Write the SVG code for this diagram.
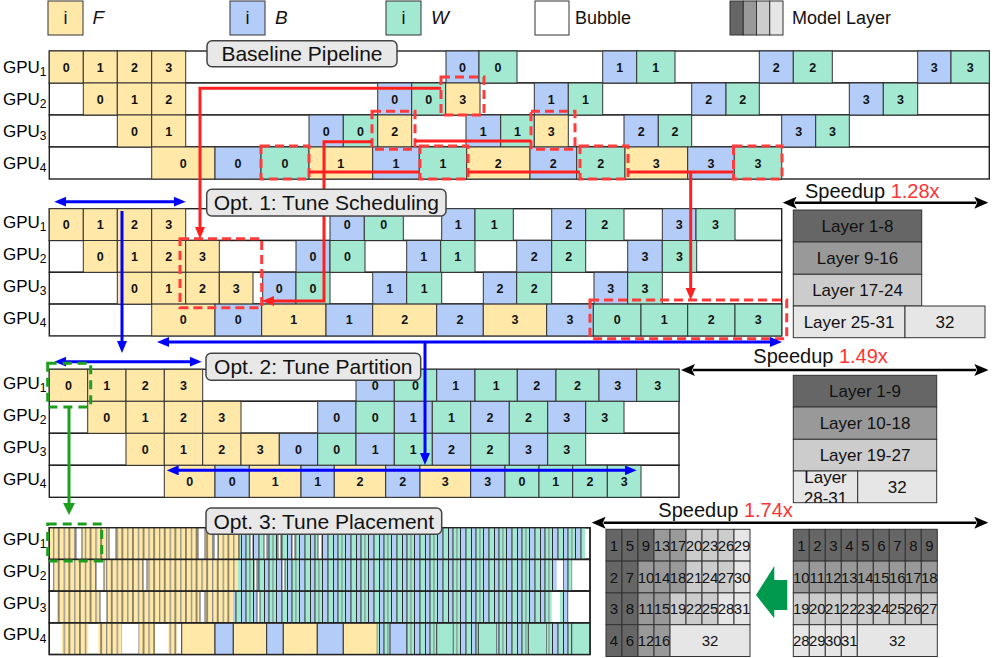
<svg xmlns="http://www.w3.org/2000/svg" width="997" height="658" viewBox="0 0 997 658">
<style>
.f{fill:#ffe8a8;stroke:#333;stroke-width:1}
.b{fill:#b3cdf8;stroke:#333;stroke-width:1}
.w{fill:#a3e9d2;stroke:#333;stroke-width:1}
.e{fill:#fff;stroke:#333;stroke-width:0.8}
.row{fill:#fff;stroke:#222;stroke-width:1.4}
.c{font:bold 12.5px "Liberation Sans",Arial,sans-serif;text-anchor:middle;fill:#111}
.g{font:17px "Liberation Sans",Arial,sans-serif;fill:#000}
.sub{font-size:12px}
.lb{fill:#e8e8e8;stroke:#444;stroke-width:1.5}
.lt{font:21px "Liberation Sans",Arial,sans-serif;text-anchor:middle;fill:#111}
.lay{font:17px "Liberation Sans",Arial,sans-serif;text-anchor:middle;fill:#111}
.num{font:15px "Liberation Sans",Arial,sans-serif;text-anchor:middle;fill:#111}
.leg{font:18px "Liberation Sans",Arial,sans-serif;fill:#111}
.legi{font:italic 19px "Liberation Sans",Arial,sans-serif;fill:#111}
.sp{font:20px "Liberation Sans",Arial,sans-serif;fill:#111}
.red{fill:#ff3333}
.l1{fill:#666;stroke:#333;stroke-width:1}
.l2{fill:#999;stroke:#333;stroke-width:1}
.l3{fill:#ccc;stroke:#333;stroke-width:1}
.l4{fill:#e6e6e6;stroke:#333;stroke-width:1}
.rd{fill:none;stroke:#ff3b3b;stroke-width:3;stroke-dasharray:9 5}
.rl{fill:none;stroke:#ff2020;stroke-width:3}
.bl{fill:none;stroke:#0000ff;stroke-width:3}
.gd{fill:none;stroke:#1e9e1e;stroke-width:3;stroke-dasharray:9 6}
.gl{fill:none;stroke:#1e9e1e;stroke-width:3}
.kl{fill:none;stroke:#000;stroke-width:2.5}
</style>
<defs>
<pattern id="pf" patternUnits="userSpaceOnUse" width="10.6" height="20">
<rect width="10.6" height="20" fill="#ffe8a8"/>
<rect x="0" width="1.3" height="20" fill="#8c8c8c"/>
<rect x="5.3" width="0.9" height="20" fill="#1a1a1a"/>
</pattern>
<pattern id="pbw" patternUnits="userSpaceOnUse" width="23" height="20">
<rect width="23" height="20" fill="#a3e9d2"/>
<rect x="0" width="5.5" height="20" fill="#b3cdf8"/>
<rect x="11" width="4.5" height="20" fill="#b3cdf8"/>
<rect x="0" width="0.9" height="20" fill="#1a1a1a"/>
<rect x="5.5" width="0.9" height="20" fill="#1a1a1a"/>
<rect x="11" width="0.9" height="20" fill="#1a1a1a"/>
<rect x="15.5" width="0.9" height="20" fill="#1a1a1a"/>
<rect x="19.5" width="0.9" height="20" fill="#777"/>
</pattern>
<marker id="mb" viewBox="0 0 12 10" refX="2" refY="5" markerWidth="12" markerHeight="10" markerUnits="userSpaceOnUse" orient="auto-start-reverse"><path d="M0,0 L12,5 L0,10 z" fill="#0000ff"/></marker>
<marker id="mr" viewBox="0 0 12 10" refX="2" refY="5" markerWidth="12" markerHeight="10" markerUnits="userSpaceOnUse" orient="auto-start-reverse"><path d="M0,0 L12,5 L0,10 z" fill="#ff2020"/></marker>
<marker id="mg" viewBox="0 0 12 12" refX="2" refY="6" markerWidth="12" markerHeight="12" markerUnits="userSpaceOnUse" orient="auto-start-reverse"><path d="M0,0 L12,6 L0,12 z" fill="#1e9e1e"/></marker>
<marker id="mk" viewBox="0 0 14 12" refX="2" refY="6" markerWidth="14" markerHeight="12" markerUnits="userSpaceOnUse" orient="auto-start-reverse"><path d="M0,0 L14,6 L0,12 L3,6 z" fill="#000"/></marker>
<clipPath id="cp1"><rect x="793.3" y="471" width="64.4" height="31.7"/></clipPath>
</defs>

<g id="legend">
<rect class="f" x="48" y="1" width="35" height="34"/><text class="leg" x="65.5" y="24" text-anchor="middle">i</text><text class="legi" x="92.5" y="24">F</text>
<rect class="b" x="230" y="1" width="35" height="34"/><text class="leg" x="247.5" y="24" text-anchor="middle">i</text><text class="legi" x="275" y="24">B</text>
<rect class="w" x="386" y="1" width="35" height="34"/><text class="leg" x="403.5" y="24" text-anchor="middle">i</text><text class="legi" x="431" y="24">W</text>
<rect class="e" x="535" y="1" width="34" height="34" style="stroke-width:1"/><text class="leg" x="575" y="24">Bubble</text>
<rect class="l1" x="730" y="1" width="13.25" height="34"/><rect class="l2" x="743.25" y="1" width="13.25" height="34"/><rect class="l3" x="756.5" y="1" width="13.25" height="34"/><rect class="l4" x="769.75" y="1" width="13.25" height="34"/>
<text class="leg" x="792" y="24">Model Layer</text>
</g>

<g id="gpu-labels">
<text class="g" x="3" y="73">GPU<tspan class="sub" dy="3">1</tspan></text>
<text class="g" x="3" y="105">GPU<tspan class="sub" dy="3">2</tspan></text>
<text class="g" x="3" y="137">GPU<tspan class="sub" dy="3">3</tspan></text>
<text class="g" x="3" y="169">GPU<tspan class="sub" dy="3">4</tspan></text>
<text class="g" x="3" y="228">GPU<tspan class="sub" dy="3">1</tspan></text>
<text class="g" x="3" y="260">GPU<tspan class="sub" dy="3">2</tspan></text>
<text class="g" x="3" y="292">GPU<tspan class="sub" dy="3">3</tspan></text>
<text class="g" x="3" y="323.5">GPU<tspan class="sub" dy="3">4</tspan></text>
<text class="g" x="3" y="389">GPU<tspan class="sub" dy="3">1</tspan></text>
<text class="g" x="3" y="421">GPU<tspan class="sub" dy="3">2</tspan></text>
<text class="g" x="3" y="453">GPU<tspan class="sub" dy="3">3</tspan></text>
<text class="g" x="3" y="485">GPU<tspan class="sub" dy="3">4</tspan></text>
<text class="g" x="3" y="545">GPU<tspan class="sub" dy="3">1</tspan></text>
<text class="g" x="3" y="577">GPU<tspan class="sub" dy="3">2</tspan></text>
<text class="g" x="3" y="608.5">GPU<tspan class="sub" dy="3">3</tspan></text>
<text class="g" x="3" y="640">GPU<tspan class="sub" dy="3">4</tspan></text>
</g>

<g id="baseline">
<rect class="row" x="49.3" y="51" width="940" height="32"/>
<rect class="row" x="49.3" y="83" width="940" height="32"/>
<rect class="row" x="49.3" y="115" width="940" height="32"/>
<rect class="row" x="49.3" y="147" width="940" height="32"/>
<rect class="f" x="49.3" y="51" width="34" height="32"/><text class="c" x="66.3" y="71.5">0</text>
<rect class="f" x="83.3" y="51" width="34" height="32"/><text class="c" x="100.3" y="71.5">1</text>
<rect class="f" x="117.3" y="51" width="34.4" height="32"/><text class="c" x="134.5" y="71.5">2</text>
<rect class="f" x="151.7" y="51" width="34" height="32"/><text class="c" x="168.7" y="71.5">3</text>
<rect class="b" x="446" y="51" width="33" height="32"/><text class="c" x="462.5" y="71.5">0</text>
<rect class="w" x="479" y="51" width="38" height="32"/><text class="c" x="498" y="71.5">0</text>
<rect class="b" x="602.7" y="51" width="34" height="32"/><text class="c" x="619.7" y="71.5">1</text>
<rect class="w" x="636.7" y="51" width="38.3" height="32"/><text class="c" x="655.8" y="71.5">1</text>
<rect class="b" x="759.3" y="51" width="34" height="32"/><text class="c" x="776.3" y="71.5">2</text>
<rect class="w" x="793.3" y="51" width="39" height="32"/><text class="c" x="812.8" y="71.5">2</text>
<rect class="b" x="917.7" y="51" width="33.3" height="32"/><text class="c" x="934.3" y="71.5">3</text>
<rect class="w" x="951" y="51" width="38.3" height="32"/><text class="c" x="970.2" y="71.5">3</text>

<rect class="f" x="83.3" y="83" width="34" height="32"/><text class="c" x="100.3" y="103.5">0</text>
<rect class="f" x="117.3" y="83" width="34.4" height="32"/><text class="c" x="134.5" y="103.5">1</text>
<rect class="f" x="151.7" y="83" width="34" height="32"/><text class="c" x="168.7" y="103.5">2</text>
<rect class="b" x="377.7" y="83" width="34" height="32"/><text class="c" x="394.7" y="103.5">0</text>
<rect class="w" x="411.7" y="83" width="34" height="32"/><text class="c" x="428.7" y="103.5">0</text>
<rect class="f" x="445.7" y="83" width="34.3" height="32"/><text class="c" x="462.8" y="103.5">3</text>
<rect class="b" x="534.3" y="83" width="34" height="32"/><text class="c" x="551.3" y="103.5">1</text>
<rect class="w" x="568.3" y="83" width="34.4" height="32"/><text class="c" x="585.5" y="103.5">1</text>
<rect class="b" x="691.7" y="83" width="34.3" height="32"/><text class="c" x="708.8" y="103.5">2</text>
<rect class="w" x="726" y="83" width="33.3" height="32"/><text class="c" x="742.7" y="103.5">2</text>
<rect class="b" x="849.3" y="83" width="34" height="32"/><text class="c" x="866.3" y="103.5">3</text>
<rect class="w" x="883.3" y="83" width="34.4" height="32"/><text class="c" x="900.5" y="103.5">3</text>

<rect class="f" x="117.3" y="115" width="34.4" height="32"/><text class="c" x="134.5" y="135.5">0</text>
<rect class="f" x="151.7" y="115" width="34" height="32"/><text class="c" x="168.7" y="135.5">1</text>
<rect class="b" x="309" y="115" width="34.3" height="32"/><text class="c" x="326.2" y="135.5">0</text>
<rect class="w" x="343.3" y="115" width="34.4" height="32"/><text class="c" x="360.5" y="135.5">0</text>
<rect class="f" x="377.7" y="115" width="34" height="32"/><text class="c" x="394.7" y="135.5">2</text>
<rect class="b" x="466" y="115" width="34.7" height="32"/><text class="c" x="483.3" y="135.5">1</text>
<rect class="w" x="500.7" y="115" width="33.6" height="32"/><text class="c" x="517.5" y="135.5">1</text>
<rect class="f" x="534.3" y="115" width="34" height="32"/><text class="c" x="551.3" y="135.5">3</text>
<rect class="b" x="624" y="115" width="34.3" height="32"/><text class="c" x="641.2" y="135.5">2</text>
<rect class="w" x="658.3" y="115" width="33.4" height="32"/><text class="c" x="675" y="135.5">2</text>
<rect class="b" x="781.7" y="115" width="34" height="32"/><text class="c" x="798.7" y="135.5">3</text>
<rect class="w" x="815.7" y="115" width="33.6" height="32"/><text class="c" x="832.5" y="135.5">3</text>

<rect class="f" x="151.7" y="147" width="63.3" height="32"/><text class="c" x="183.3" y="167.5">0</text>
<rect class="b" x="215" y="147" width="46" height="32"/><text class="c" x="238" y="167.5">0</text>
<rect class="w" x="261" y="147" width="48" height="32"/><text class="c" x="285" y="167.5">0</text>
<rect class="f" x="309" y="147" width="63.7" height="32"/><text class="c" x="340.8" y="167.5">1</text>
<rect class="b" x="372.7" y="147" width="46.6" height="32"/><text class="c" x="396" y="167.5">1</text>
<rect class="w" x="419.3" y="147" width="47.4" height="32"/><text class="c" x="443" y="167.5">1</text>
<rect class="f" x="466.7" y="147" width="63.3" height="32"/><text class="c" x="498.3" y="167.5">2</text>
<rect class="b" x="530" y="147" width="46.7" height="32"/><text class="c" x="553.3" y="167.5">2</text>
<rect class="w" x="576.7" y="147" width="48.3" height="32"/><text class="c" x="600.8" y="167.5">2</text>
<rect class="f" x="625" y="147" width="62.7" height="32"/><text class="c" x="656.3" y="167.5">3</text>
<rect class="b" x="687.7" y="147" width="46.6" height="32"/><text class="c" x="711" y="167.5">3</text>
<rect class="w" x="734.3" y="147" width="47.4" height="32"/><text class="c" x="758" y="167.5">3</text>
</g>

<g id="opt1">
<rect class="row" x="49.3" y="208.7" width="732.4" height="31.8"/>
<rect class="row" x="49.3" y="240.5" width="732.4" height="31.8"/>
<rect class="row" x="49.3" y="272.3" width="732.4" height="31.8"/>
<rect class="row" x="49.3" y="304.1" width="732.4" height="31.8"/>
<rect class="f" x="49.3" y="208.7" width="34" height="31.8"/><text class="c" x="66.3" y="229">0</text>
<rect class="f" x="83.3" y="208.7" width="34" height="31.8"/><text class="c" x="100.3" y="229">1</text>
<rect class="f" x="117.3" y="208.7" width="34.4" height="31.8"/><text class="c" x="134.5" y="229">2</text>
<rect class="f" x="151.7" y="208.7" width="34" height="31.8"/><text class="c" x="168.7" y="229">3</text>
<rect class="b" x="330" y="208.7" width="34.3" height="31.8"/><text class="c" x="347.2" y="229">0</text>
<rect class="w" x="364.3" y="208.7" width="39" height="31.8"/><text class="c" x="383.8" y="229">0</text>
<rect class="b" x="441.7" y="208.7" width="33.3" height="31.8"/><text class="c" x="458.3" y="229">1</text>
<rect class="w" x="475" y="208.7" width="38.3" height="31.8"/><text class="c" x="494.2" y="229">1</text>
<rect class="b" x="551.7" y="208.7" width="34" height="31.8"/><text class="c" x="568.7" y="229">2</text>
<rect class="w" x="585.7" y="208.7" width="38.3" height="31.8"/><text class="c" x="604.8" y="229">2</text>
<rect class="b" x="662.3" y="208.7" width="33.7" height="31.8"/><text class="c" x="679.2" y="229">3</text>
<rect class="w" x="696" y="208.7" width="39" height="31.8"/><text class="c" x="715.5" y="229">3</text>

<rect class="f" x="83.3" y="240.5" width="34" height="31.8"/><text class="c" x="100.3" y="260.8">0</text>
<rect class="f" x="117.3" y="240.5" width="34.4" height="31.8"/><text class="c" x="134.5" y="260.8">1</text>
<rect class="f" x="151.7" y="240.5" width="34" height="31.8"/><text class="c" x="168.7" y="260.8">2</text>
<rect class="f" x="185.7" y="240.5" width="33.6" height="31.8"/><text class="c" x="202.5" y="260.8">3</text>
<rect class="b" x="296" y="240.5" width="34" height="31.8"/><text class="c" x="313" y="260.8">0</text>
<rect class="w" x="330" y="240.5" width="35" height="31.8"/><text class="c" x="347.5" y="260.8">0</text>
<rect class="b" x="406.7" y="240.5" width="34" height="31.8"/><text class="c" x="423.7" y="260.8">1</text>
<rect class="w" x="440.7" y="240.5" width="34.3" height="31.8"/><text class="c" x="457.8" y="260.8">1</text>
<rect class="b" x="516.7" y="240.5" width="35" height="31.8"/><text class="c" x="534.2" y="260.8">2</text>
<rect class="w" x="551.7" y="240.5" width="34" height="31.8"/><text class="c" x="568.7" y="260.8">2</text>
<rect class="b" x="627.7" y="240.5" width="34.6" height="31.8"/><text class="c" x="645" y="260.8">3</text>
<rect class="w" x="662.3" y="240.5" width="34.4" height="31.8"/><text class="c" x="679.5" y="260.8">3</text>

<rect class="f" x="117.3" y="272.3" width="34.4" height="31.8"/><text class="c" x="134.5" y="292.6">0</text>
<rect class="f" x="151.7" y="272.3" width="34" height="31.8"/><text class="c" x="168.7" y="292.6">1</text>
<rect class="f" x="185.7" y="272.3" width="33.6" height="31.8"/><text class="c" x="202.5" y="292.6">2</text>
<rect class="f" x="219.3" y="272.3" width="33.7" height="31.8"/><text class="c" x="236.2" y="292.6">3</text>
<rect class="b" x="262.7" y="272.3" width="33.3" height="31.8"/><text class="c" x="279.3" y="292.6">0</text>
<rect class="w" x="296" y="272.3" width="34" height="31.8"/><text class="c" x="313" y="292.6">0</text>
<rect class="b" x="372.7" y="272.3" width="34" height="31.8"/><text class="c" x="389.7" y="292.6">1</text>
<rect class="w" x="406.7" y="272.3" width="35" height="31.8"/><text class="c" x="424.2" y="292.6">1</text>
<rect class="b" x="483.3" y="272.3" width="33.4" height="31.8"/><text class="c" x="500" y="292.6">2</text>
<rect class="w" x="516.7" y="272.3" width="35" height="31.8"/><text class="c" x="534.2" y="292.6">2</text>
<rect class="b" x="594" y="272.3" width="33.7" height="31.8"/><text class="c" x="610.8" y="292.6">3</text>
<rect class="w" x="627.7" y="272.3" width="34.6" height="31.8"/><text class="c" x="645" y="292.6">3</text>

<rect class="f" x="151.7" y="304.1" width="63.3" height="31.8"/><text class="c" x="183.3" y="324.4">0</text>
<rect class="b" x="215" y="304.1" width="46.7" height="31.8"/><text class="c" x="238.3" y="324.4">0</text>
<rect class="f" x="261.7" y="304.1" width="64.3" height="31.8"/><text class="c" x="293.8" y="324.4">1</text>
<rect class="b" x="326" y="304.1" width="46.7" height="31.8"/><text class="c" x="349.3" y="324.4">1</text>
<rect class="f" x="372.7" y="304.1" width="64" height="31.8"/><text class="c" x="404.7" y="324.4">2</text>
<rect class="b" x="436.7" y="304.1" width="46.6" height="31.8"/><text class="c" x="460" y="324.4">2</text>
<rect class="f" x="483.3" y="304.1" width="63.4" height="31.8"/><text class="c" x="515" y="324.4">3</text>
<rect class="b" x="546.7" y="304.1" width="46.6" height="31.8"/><text class="c" x="570" y="324.4">3</text>
<rect class="w" x="593.3" y="304.1" width="47.7" height="31.8"/><text class="c" x="617.2" y="324.4">0</text>
<rect class="w" x="641" y="304.1" width="46.7" height="31.8"/><text class="c" x="664.3" y="324.4">1</text>
<rect class="w" x="687.7" y="304.1" width="47.3" height="31.8"/><text class="c" x="711.3" y="324.4">2</text>
<rect class="w" x="735" y="304.1" width="46.7" height="31.8"/><text class="c" x="758.3" y="324.4">3</text>
</g>

<g id="opt2">
<rect class="row" x="49.3" y="369.3" width="629.7" height="32"/>
<rect class="row" x="49.3" y="401.3" width="629.7" height="32"/>
<rect class="row" x="49.3" y="433.3" width="629.7" height="32"/>
<rect class="row" x="49.3" y="465.3" width="629.7" height="32"/>
<rect class="f" x="49.3" y="369.3" width="38.4" height="32"/><text class="c" x="68.5" y="389.8">0</text>
<rect class="f" x="87.7" y="369.3" width="38.3" height="32"/><text class="c" x="106.8" y="389.8">1</text>
<rect class="f" x="126" y="369.3" width="38.3" height="32"/><text class="c" x="145.2" y="389.8">2</text>
<rect class="f" x="164.3" y="369.3" width="38.4" height="32"/><text class="c" x="183.5" y="389.8">3</text>
<rect class="b" x="356" y="369.3" width="38.3" height="32"/><text class="c" x="375.2" y="389.8">0</text>
<rect class="w" x="394.3" y="369.3" width="42.4" height="32"/><text class="c" x="415.5" y="389.8">0</text>
<rect class="b" x="436.7" y="369.3" width="38.3" height="32"/><text class="c" x="455.8" y="389.8">1</text>
<rect class="w" x="475" y="369.3" width="42.3" height="32"/><text class="c" x="496.2" y="389.8">1</text>
<rect class="b" x="517.3" y="369.3" width="38.7" height="32"/><text class="c" x="536.7" y="389.8">2</text>
<rect class="w" x="556" y="369.3" width="43" height="32"/><text class="c" x="577.5" y="389.8">2</text>
<rect class="b" x="599" y="369.3" width="37.7" height="32"/><text class="c" x="617.8" y="389.8">3</text>
<rect class="w" x="636.7" y="369.3" width="42.3" height="32"/><text class="c" x="657.8" y="389.8">3</text>

<rect class="f" x="87.7" y="401.3" width="38.3" height="32"/><text class="c" x="106.8" y="421.8">0</text>
<rect class="f" x="126" y="401.3" width="38.3" height="32"/><text class="c" x="145.2" y="421.8">1</text>
<rect class="f" x="164.3" y="401.3" width="38.4" height="32"/><text class="c" x="183.5" y="421.8">2</text>
<rect class="f" x="202.7" y="401.3" width="38.3" height="32"/><text class="c" x="221.8" y="421.8">3</text>
<rect class="b" x="317.7" y="401.3" width="38.3" height="32"/><text class="c" x="336.8" y="421.8">0</text>
<rect class="w" x="356" y="401.3" width="38.3" height="32"/><text class="c" x="375.2" y="421.8">0</text>
<rect class="b" x="394.3" y="401.3" width="38" height="32"/><text class="c" x="413.3" y="421.8">1</text>
<rect class="w" x="432.3" y="401.3" width="38.4" height="32"/><text class="c" x="451.5" y="421.8">1</text>
<rect class="b" x="470.7" y="401.3" width="38.6" height="32"/><text class="c" x="490" y="421.8">2</text>
<rect class="w" x="509.3" y="401.3" width="38.4" height="32"/><text class="c" x="528.5" y="421.8">2</text>
<rect class="b" x="547.7" y="401.3" width="38" height="32"/><text class="c" x="566.7" y="421.8">3</text>
<rect class="w" x="585.7" y="401.3" width="38.3" height="32"/><text class="c" x="604.8" y="421.8">3</text>

<rect class="f" x="126" y="433.3" width="38.3" height="32"/><text class="c" x="145.2" y="453.8">0</text>
<rect class="f" x="164.3" y="433.3" width="38.4" height="32"/><text class="c" x="183.5" y="453.8">1</text>
<rect class="f" x="202.7" y="433.3" width="38.3" height="32"/><text class="c" x="221.8" y="453.8">2</text>
<rect class="f" x="241" y="433.3" width="38.3" height="32"/><text class="c" x="260.2" y="453.8">3</text>
<rect class="b" x="279.3" y="433.3" width="38.4" height="32"/><text class="c" x="298.5" y="453.8">0</text>
<rect class="w" x="317.7" y="433.3" width="38.3" height="32"/><text class="c" x="336.8" y="453.8">0</text>
<rect class="b" x="356" y="433.3" width="38.3" height="32"/><text class="c" x="375.2" y="453.8">1</text>
<rect class="w" x="394.3" y="433.3" width="38" height="32"/><text class="c" x="413.3" y="453.8">1</text>
<rect class="b" x="432.3" y="433.3" width="38.4" height="32"/><text class="c" x="451.5" y="453.8">2</text>
<rect class="w" x="470.7" y="433.3" width="38.6" height="32"/><text class="c" x="490" y="453.8">2</text>
<rect class="b" x="509.3" y="433.3" width="38.4" height="32"/><text class="c" x="528.5" y="453.8">3</text>
<rect class="w" x="547.7" y="433.3" width="38" height="32"/><text class="c" x="566.7" y="453.8">3</text>

<rect class="f" x="164.3" y="465.3" width="50.7" height="32"/><text class="c" x="189.7" y="485.8">0</text>
<rect class="b" x="215" y="465.3" width="34.3" height="32"/><text class="c" x="232.2" y="485.8">0</text>
<rect class="f" x="249.3" y="465.3" width="51.7" height="32"/><text class="c" x="275.2" y="485.8">1</text>
<rect class="b" x="301" y="465.3" width="33.3" height="32"/><text class="c" x="317.7" y="485.8">1</text>
<rect class="f" x="334.3" y="465.3" width="51.4" height="32"/><text class="c" x="360" y="485.8">2</text>
<rect class="b" x="385.7" y="465.3" width="34.3" height="32"/><text class="c" x="402.8" y="485.8">2</text>
<rect class="f" x="420" y="465.3" width="50.7" height="32"/><text class="c" x="445.3" y="485.8">3</text>
<rect class="b" x="470.7" y="465.3" width="34.3" height="32"/><text class="c" x="487.8" y="485.8">3</text>
<rect class="w" x="505" y="465.3" width="34" height="32"/><text class="c" x="522" y="485.8">0</text>
<rect class="w" x="539" y="465.3" width="33.7" height="32"/><text class="c" x="555.8" y="485.8">1</text>
<rect class="w" x="572.7" y="465.3" width="34.6" height="32"/><text class="c" x="590" y="485.8">2</text>
<rect class="w" x="607.3" y="465.3" width="33.7" height="32"/><text class="c" x="624.2" y="485.8">3</text>
</g>

<g id="opt3">
<rect class="row" x="49.3" y="527.7" width="540.7" height="31.7"/>
<rect class="row" x="49.3" y="559.4" width="540.7" height="31.7"/>
<rect class="row" x="49.3" y="591.1" width="540.7" height="31.7"/>
<rect class="row" x="49.3" y="622.8" width="540.7" height="31.7"/>
<rect x="49.3" y="527.7" width="190.7" height="31.7" fill="url(#pf)"/>
<rect x="240" y="527.7" width="345" height="31.7" fill="url(#pbw)"/>
<rect class="e" x="76" y="527.7" width="6" height="31.7"/><rect class="e" x="109" y="527.7" width="7" height="31.7"/><rect class="e" x="198" y="527.7" width="7" height="31.7"/><rect class="e" x="214" y="527.7" width="4" height="31.7"/>
<rect class="e" x="250" y="527.7" width="3" height="31.7"/><rect class="e" x="264" y="527.7" width="3" height="31.7"/><rect class="e" x="278" y="527.7" width="3" height="31.7"/><rect class="e" x="292" y="527.7" width="3" height="31.7"/><rect class="e" x="318" y="527.7" width="4" height="31.7"/>
<rect x="53" y="559.4" width="185" height="31.7" fill="url(#pf)"/>
<rect x="238" y="559.4" width="318.7" height="31.7" fill="url(#pbw)"/>
<rect x="563.3" y="559.4" width="9" height="31.7" fill="url(#pbw)"/>
<rect class="e" x="96" y="559.4" width="8" height="31.7"/><rect class="e" x="143" y="559.4" width="4" height="31.7"/><rect class="e" x="254" y="559.4" width="3" height="31.7"/><rect class="e" x="282" y="559.4" width="3" height="31.7"/>
<rect x="57" y="591.1" width="176" height="31.7" fill="url(#pf)"/>
<rect x="233" y="591.1" width="318.7" height="31.7" fill="url(#pbw)"/>
<rect x="560" y="591.1" width="8.3" height="31.7" fill="url(#pbw)"/>
<rect class="e" x="100" y="591.1" width="7" height="31.7"/><rect class="e" x="200" y="591.1" width="5" height="31.7"/><rect class="e" x="257" y="591.1" width="3" height="31.7"/>
<rect x="61.7" y="622.8" width="26.6" height="31.7" fill="url(#pf)"/>
<rect x="98.3" y="622.8" width="23.4" height="31.7" fill="url(#pf)"/>
<rect x="138.3" y="622.8" width="16.7" height="31.7" fill="url(#pf)"/>
<rect x="168.3" y="622.8" width="8.4" height="31.7" fill="url(#pf)"/>
<rect class="f" x="181.7" y="622.8" width="33.3" height="31.7"/>
<rect class="b" x="215" y="622.8" width="18.3" height="31.7"/>
<rect class="f" x="233.3" y="622.8" width="33.4" height="31.7"/>
<rect class="b" x="266.7" y="622.8" width="16.6" height="31.7"/>
<rect class="f" x="283.3" y="622.8" width="34" height="31.7"/>
<rect class="b" x="317.3" y="622.8" width="26" height="31.7"/>
<rect class="f" x="343.3" y="622.8" width="34" height="31.7"/>
<rect x="377.3" y="622.8" width="12.7" height="31.7" fill="url(#pbw)"/>
<rect class="b" x="390" y="622.8" width="16.7" height="31.7"/>
<rect x="406.7" y="622.8" width="30" height="31.7" fill="url(#pbw)"/>
<rect class="w" x="436.7" y="622.8" width="16.6" height="31.7"/>
<rect x="453.3" y="622.8" width="25" height="31.7" fill="url(#pbw)"/>
<rect class="w" x="478.3" y="622.8" width="18.4" height="31.7"/>
<rect x="496.7" y="622.8" width="31.6" height="31.7" fill="url(#pbw)"/>
<rect class="w" x="528.3" y="622.8" width="18.4" height="31.7"/>
<rect x="546.7" y="622.8" width="25" height="31.7" fill="url(#pbw)"/>
<rect class="w" x="571.7" y="622.8" width="18.3" height="31.7"/>
<rect x="49.3" y="527.7" width="540.7" height="31.7" fill="none" stroke="#222" stroke-width="1.4"/>
<rect x="49.3" y="559.4" width="540.7" height="31.7" fill="none" stroke="#222" stroke-width="1.4"/>
<rect x="49.3" y="591.1" width="540.7" height="31.7" fill="none" stroke="#222" stroke-width="1.4"/>
<rect x="49.3" y="622.8" width="540.7" height="31.7" fill="none" stroke="#222" stroke-width="1.4"/>
</g>

<g id="layers-opt1">
<rect class="l1" x="793.3" y="210" width="128.4" height="32"/><text class="lay" x="857.5" y="232">Layer 1-8</text>
<rect class="l2" x="793.3" y="242" width="128.4" height="32.3"/><text class="lay" x="857.5" y="264">Layer 9-16</text>
<rect class="l3" x="793.3" y="274.3" width="128.4" height="31.7"/><text class="lay" x="857.5" y="296">Layer 17-24</text>
<rect class="l4" x="793.3" y="306" width="111.7" height="31.7"/><text class="lay" x="849" y="328">Layer 25-31</text>
<rect class="l4" x="905" y="306" width="80" height="31.7"/><text class="lay" x="945" y="328">32</text>
</g>

<g id="layers-opt2">
<rect class="l1" x="793.3" y="375.3" width="143.4" height="31.7"/><text class="lay" x="865" y="397">Layer 1-9</text>
<rect class="l2" x="793.3" y="407" width="143.4" height="32.3"/><text class="lay" x="865" y="429">Layer 10-18</text>
<rect class="l3" x="793.3" y="439.3" width="143.4" height="31.7"/><text class="lay" x="865" y="461">Layer 19-27</text>
<rect class="l4" x="793.3" y="471" width="64.4" height="31.7"/>
<g clip-path="url(#cp1)"><text class="lay" x="825.5" y="483">Layer</text><text class="lay" x="825.5" y="504">28-31</text></g>
<rect class="l4" x="857.7" y="471" width="79" height="31.7"/><text class="lay" x="897.2" y="493">32</text>
</g>

<g id="layers-opt3-placed">
<rect class="l1" x="606" y="529.3" width="16" height="31.8"/><text class="num" x="614" y="550.7">1</text>
<rect class="l1" x="622" y="529.3" width="16" height="31.8"/><text class="num" x="630" y="550.7">5</text>
<rect class="l1" x="638" y="529.3" width="16" height="31.8"/><text class="num" x="646" y="550.7">9</text>
<rect class="l2" x="654" y="529.3" width="16" height="31.8"/><text class="num" x="662" y="550.7">13</text>
<rect class="l2" x="670" y="529.3" width="16" height="31.8"/><text class="num" x="678" y="550.7">17</text>
<rect class="l3" x="686" y="529.3" width="16" height="31.8"/><text class="num" x="694" y="550.7">20</text>
<rect class="l3" x="702" y="529.3" width="16" height="31.8"/><text class="num" x="710" y="550.7">23</text>
<rect class="l3" x="718" y="529.3" width="16" height="31.8"/><text class="num" x="726" y="550.7">26</text>
<rect class="l4" x="734" y="529.3" width="16" height="31.8"/><text class="num" x="742" y="550.7">29</text>
<rect class="l1" x="606" y="561.1" width="16" height="31.8"/><text class="num" x="614" y="582.5">2</text>
<rect class="l1" x="622" y="561.1" width="16" height="31.8"/><text class="num" x="630" y="582.5">7</text>
<rect class="l2" x="638" y="561.1" width="16" height="31.8"/><text class="num" x="646" y="582.5">10</text>
<rect class="l2" x="654" y="561.1" width="16" height="31.8"/><text class="num" x="662" y="582.5">14</text>
<rect class="l2" x="670" y="561.1" width="16" height="31.8"/><text class="num" x="678" y="582.5">18</text>
<rect class="l3" x="686" y="561.1" width="16" height="31.8"/><text class="num" x="694" y="582.5">21</text>
<rect class="l3" x="702" y="561.1" width="16" height="31.8"/><text class="num" x="710" y="582.5">24</text>
<rect class="l3" x="718" y="561.1" width="16" height="31.8"/><text class="num" x="726" y="582.5">27</text>
<rect class="l4" x="734" y="561.1" width="16" height="31.8"/><text class="num" x="742" y="582.5">30</text>
<rect class="l1" x="606" y="592.9" width="16" height="31.8"/><text class="num" x="614" y="614.3">3</text>
<rect class="l1" x="622" y="592.9" width="16" height="31.8"/><text class="num" x="630" y="614.3">8</text>
<rect class="l2" x="638" y="592.9" width="16" height="31.8"/><text class="num" x="646" y="614.3">11</text>
<rect class="l2" x="654" y="592.9" width="16" height="31.8"/><text class="num" x="662" y="614.3">15</text>
<rect class="l3" x="670" y="592.9" width="16" height="31.8"/><text class="num" x="678" y="614.3">19</text>
<rect class="l3" x="686" y="592.9" width="16" height="31.8"/><text class="num" x="694" y="614.3">22</text>
<rect class="l3" x="702" y="592.9" width="16" height="31.8"/><text class="num" x="710" y="614.3">25</text>
<rect class="l4" x="718" y="592.9" width="16" height="31.8"/><text class="num" x="726" y="614.3">28</text>
<rect class="l4" x="734" y="592.9" width="16" height="31.8"/><text class="num" x="742" y="614.3">31</text>
<rect class="l1" x="606" y="624.7" width="16" height="31.8"/><text class="num" x="614" y="646.1">4</text>
<rect class="l1" x="622" y="624.7" width="16" height="31.8"/><text class="num" x="630" y="646.1">6</text>
<rect class="l2" x="638" y="624.7" width="16" height="31.8"/><text class="num" x="646" y="646.1">12</text>
<rect class="l2" x="654" y="624.7" width="16" height="31.8"/><text class="num" x="662" y="646.1">16</text>
<rect class="l4" x="670" y="624.7" width="80" height="31.8"/><text class="num" x="710" y="646.1">32</text>
</g>

<g id="layers-opt3-orig">
<rect class="l1" x="793.3" y="529.3" width="16" height="31.8"/><text class="num" x="801.3" y="550.7">1</text>
<rect class="l1" x="809.3" y="529.3" width="16" height="31.8"/><text class="num" x="817.3" y="550.7">2</text>
<rect class="l1" x="825.3" y="529.3" width="16" height="31.8"/><text class="num" x="833.3" y="550.7">3</text>
<rect class="l1" x="841.3" y="529.3" width="16" height="31.8"/><text class="num" x="849.3" y="550.7">4</text>
<rect class="l1" x="857.3" y="529.3" width="16" height="31.8"/><text class="num" x="865.3" y="550.7">5</text>
<rect class="l1" x="873.3" y="529.3" width="16" height="31.8"/><text class="num" x="881.3" y="550.7">6</text>
<rect class="l1" x="889.3" y="529.3" width="16" height="31.8"/><text class="num" x="897.3" y="550.7">7</text>
<rect class="l1" x="905.3" y="529.3" width="16" height="31.8"/><text class="num" x="913.3" y="550.7">8</text>
<rect class="l1" x="921.3" y="529.3" width="16" height="31.8"/><text class="num" x="929.3" y="550.7">9</text>
<rect class="l2" x="793.3" y="561.1" width="16" height="31.8"/><text class="num" x="801.3" y="582.5">10</text>
<rect class="l2" x="809.3" y="561.1" width="16" height="31.8"/><text class="num" x="817.3" y="582.5">11</text>
<rect class="l2" x="825.3" y="561.1" width="16" height="31.8"/><text class="num" x="833.3" y="582.5">12</text>
<rect class="l2" x="841.3" y="561.1" width="16" height="31.8"/><text class="num" x="849.3" y="582.5">13</text>
<rect class="l2" x="857.3" y="561.1" width="16" height="31.8"/><text class="num" x="865.3" y="582.5">14</text>
<rect class="l2" x="873.3" y="561.1" width="16" height="31.8"/><text class="num" x="881.3" y="582.5">15</text>
<rect class="l2" x="889.3" y="561.1" width="16" height="31.8"/><text class="num" x="897.3" y="582.5">16</text>
<rect class="l2" x="905.3" y="561.1" width="16" height="31.8"/><text class="num" x="913.3" y="582.5">17</text>
<rect class="l2" x="921.3" y="561.1" width="16" height="31.8"/><text class="num" x="929.3" y="582.5">18</text>
<rect class="l3" x="793.3" y="592.9" width="16" height="31.8"/><text class="num" x="801.3" y="614.3">19</text>
<rect class="l3" x="809.3" y="592.9" width="16" height="31.8"/><text class="num" x="817.3" y="614.3">20</text>
<rect class="l3" x="825.3" y="592.9" width="16" height="31.8"/><text class="num" x="833.3" y="614.3">21</text>
<rect class="l3" x="841.3" y="592.9" width="16" height="31.8"/><text class="num" x="849.3" y="614.3">22</text>
<rect class="l3" x="857.3" y="592.9" width="16" height="31.8"/><text class="num" x="865.3" y="614.3">23</text>
<rect class="l3" x="873.3" y="592.9" width="16" height="31.8"/><text class="num" x="881.3" y="614.3">24</text>
<rect class="l3" x="889.3" y="592.9" width="16" height="31.8"/><text class="num" x="897.3" y="614.3">25</text>
<rect class="l3" x="905.3" y="592.9" width="16" height="31.8"/><text class="num" x="913.3" y="614.3">26</text>
<rect class="l3" x="921.3" y="592.9" width="16" height="31.8"/><text class="num" x="929.3" y="614.3">27</text>
<rect class="l4" x="793.3" y="624.7" width="16" height="31.8"/><text class="num" x="801.3" y="646.1">28</text>
<rect class="l4" x="809.3" y="624.7" width="16" height="31.8"/><text class="num" x="817.3" y="646.1">29</text>
<rect class="l4" x="825.3" y="624.7" width="16" height="31.8"/><text class="num" x="833.3" y="646.1">30</text>
<rect class="l4" x="841.3" y="624.7" width="16" height="31.8"/><text class="num" x="849.3" y="646.1">31</text>
<rect class="l4" x="857.3" y="624.7" width="80" height="31.8"/><text class="num" x="897.3" y="646.1">32</text>
</g>

<g id="connectors">
<rect class="rd" x="441" y="77" width="43" height="38"/>
<rect class="rd" x="372" y="111.3" width="43" height="38"/>
<rect class="rd" x="531" y="111.3" width="44" height="38"/>
<rect class="rd" x="261" y="146" width="48" height="33"/>
<rect class="rd" x="420" y="146" width="48" height="33"/>
<rect class="rd" x="580" y="146" width="48" height="33"/>
<rect class="rd" x="733.5" y="146" width="48.5" height="33"/>
<rect class="rd" x="180" y="238.7" width="81.7" height="69"/>
<rect class="rd" x="590" y="300" width="196.7" height="38.7"/>
<path class="rl" d="M441,88.3 H200 V229" marker-end="url(#mr)"/>
<path class="rl" d="M372,141.7 H324 V301 H272" marker-end="url(#mr)"/>
<path class="rl" d="M415,141 H531"/>
<path class="rl" d="M309,172 H420"/>
<path class="rl" d="M468,172 H580"/>
<path class="rl" d="M628,172 H733.5"/>
<path class="rl" d="M690.7,172 V290" marker-end="url(#mr)"/>
<path class="bl" d="M64.3,201.7 H175.7" marker-start="url(#mb)" marker-end="url(#mb)"/>
<path class="bl" d="M122,211 V343" marker-end="url(#mb)"/>
<path class="bl" d="M167,342 H772" marker-start="url(#mb)" marker-end="url(#mb)"/>
<path class="bl" d="M425,342 V455" marker-end="url(#mb)"/>
<path class="bl" d="M64.3,361.7 H191.7" marker-start="url(#mb)" marker-end="url(#mb)"/>
<path class="bl" d="M176.7,470.3 H626.7" marker-start="url(#mb)" marker-end="url(#mb)"/>
<rect class="gd" x="47.7" y="363.3" width="43" height="43.7"/>
<path class="gl" d="M69,407 V505" marker-end="url(#mg)"/>
<rect class="gd" x="47.7" y="524" width="54" height="37"/>
<path d="M756,595 L774.3,566 L774.3,580 L787.3,580 L787.3,610 L774.3,610 L774.3,618.3 Z" fill="#00994d"/>
<path class="kl" d="M794.7,202.7 H976.3" marker-start="url(#mk)" marker-end="url(#mk)"/>
<path class="kl" d="M693,370 H976.3" marker-start="url(#mk)" marker-end="url(#mk)"/>
<path class="kl" d="M603.7,522.7 H976.3" marker-start="url(#mk)" marker-end="url(#mk)"/>
</g>

<g id="speedups">
<text class="sp" x="805" y="197.5">Speedup <tspan class="red">1.28x</tspan></text>
<text class="sp" x="753.3" y="363.3">Speedup <tspan class="red">1.49x</tspan></text>
<text class="sp" x="658.3" y="516.7">Speedup <tspan class="red">1.74x</tspan></text>
</g>

<g id="titles">
<rect class="lb" x="207" y="40.7" width="190" height="26" rx="5"/><text class="lt" x="302" y="61.2">Baseline Pipeline</text>
<rect class="lb" x="206.7" y="189.3" width="239.3" height="26.7" rx="5"/><text class="lt" x="326.3" y="210.2">Opt. 1: Tune Scheduling</text>
<rect class="lb" x="206" y="353.3" width="214.7" height="27" rx="5"/><text class="lt" x="313.3" y="374.3">Opt. 2: Tune Partition</text>
<rect class="lb" x="206" y="508" width="235.7" height="26.3" rx="5"/><text class="lt" x="323.8" y="528.7">Opt. 3: Tune Placement</text>
</g>
</svg>
